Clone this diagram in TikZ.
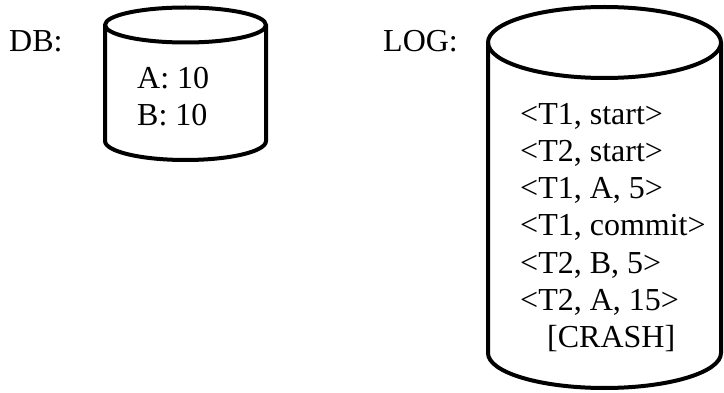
\documentclass[tikz,border=0pt]{standalone}
\usepackage{fontspec}
\setmainfont{Liberation Serif}
\begin{document}
\begin{tikzpicture}[x=1pt,y=-1pt,
  cyl/.style={line width=4pt,line join=round},
  txt/.style={inner sep=0pt,anchor=base west,font=\fontsize{32}{37}\selectfont}]
\useasboundingbox (0,0) rectangle (724,393);

% database cylinder
\draw[cyl] (185.5,25) ellipse [x radius=80.5pt,y radius=17.5pt];
\draw[cyl] (105,25) -- (105,141) arc[start angle=180,end angle=360,x radius=80.5pt,y radius=19pt] -- (266,25);

% log cylinder
\draw[cyl] (604.5,42.5) ellipse [x radius=116.5pt,y radius=35.5pt];
\draw[cyl] (488,42.5) -- (488,353) arc[start angle=180,end angle=360,x radius=116.5pt,y radius=35pt] -- (721,42.5);

% labels
\node[txt] (dblabel) at (9,52) {DB:};
\node[txt] (loglabel) at (383,52) {LOG:};

% database contents
\node[txt] (va) at (137,89) {A: 10};
\node[txt] (vb) at (137,126) {B: 10};

% log records
\node[txt] (r1) at (520,125) {<T1, start>};
\node[txt] (r2) at (520,162) {<T2, start>};
\node[txt] (r3) at (520,199) {<T1, A, 5>};
\node[txt] (r4) at (520,236) {<T1, commit>};
\node[txt] (r5) at (520,273) {<T2, B, 5>};
\node[txt] (r6) at (520,310) {<T2, A, 15>};
\node[txt] (r7) at (547,347) {[CRASH]};
\end{tikzpicture}
\end{document}
